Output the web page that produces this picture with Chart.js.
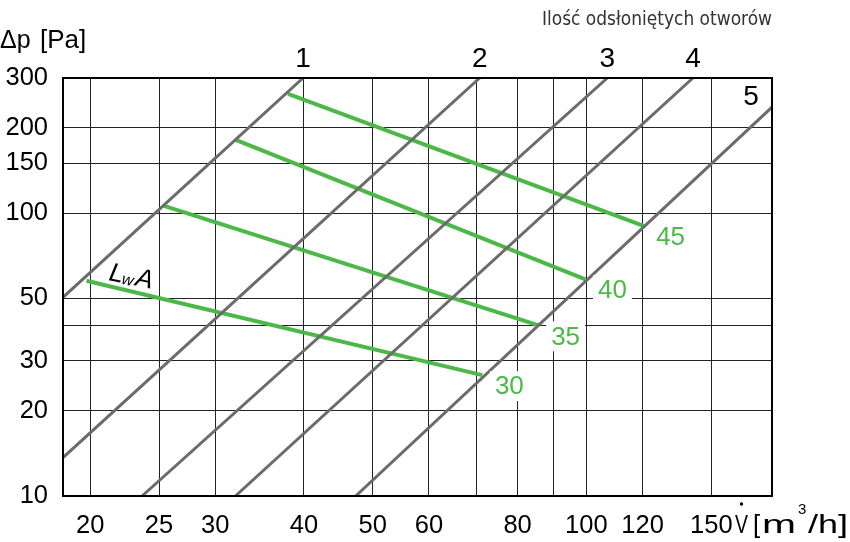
<!DOCTYPE html>
<html><head><meta charset="utf-8">
<script src="https://cdn.jsdelivr.net/npm/chart.js@4.4.1/dist/chart.umd.min.js"></script>
<style>html,body{margin:0;padding:0;background:#fff;} #wrap{width:850px;height:542px;}</style>
</head><body><div id="wrap"><canvas id="c" width="850" height="542"></canvas></div>
<script>
// ---- data ----
const xTickValues = [20,25,30,40,50,60,70,80,90,100,120,150];
const xTickLabels = ['20','25','30','40','50','60','','80','','100','120','150'];
const yTickValues = [10,20,30,40,50,100,150,200,300];
const yTickLabels = ['10','20','30','','50','100','150','200','300'];
const xRange = [18.31, 182.6];
const yRange = [10, 300];

// opening count lines (1..5): flow [m3/h] and pressure [Pa] at both ends
const openingNames = ['1','2','3','4','5'];
const openingFlowStart = [18.31, 18.31, 23.66, 32.03, 47.32];
const openingDpStart   = [50.37, 13.67, 10, 10, 10];
const openingFlowEnd   = [39.89, 70.74, 107.05, 141.3, 182.6];
const openingDpEnd     = [300, 300, 300, 300, 236.8];

// sound power level lines LwA
const lwaNames = ['30','35','40','45'];
const lwaFlowStart = [19.76, 25.41, 32.06, 37.99];
const lwaDpStart   = [57.66, 105.97, 181.4, 263.9];
const lwaFlowEnd   = [71.36, 85.65, 99.68, 120.4];
const lwaDpEnd     = [26.74, 40.09, 58.32, 90.04];

const topTitle = 'Ilość odsłoniętych otworów';

// ---- styles ----
const GREEN = '#4cb848';
const GRAY = '#6b6b6b';
const FONT = "'Liberation Sans', Arial, sans-serif";

const datasets = [];
openingNames.forEach((n, i) => datasets.push({
  label: 'Otwory ' + n,
  data: [{x: openingFlowStart[i], y: openingDpStart[i]}, {x: openingFlowEnd[i], y: openingDpEnd[i]}],
  borderColor: GRAY, borderWidth: 3, showLine: true, pointRadius: 0, order: 0
}));
lwaNames.forEach((n, i) => datasets.push({
  label: 'LwA ' + n,
  data: [{x: lwaFlowStart[i], y: lwaDpStart[i]}, {x: lwaFlowEnd[i], y: lwaDpEnd[i]}],
  borderColor: GREEN, borderWidth: 4, showLine: true, pointRadius: 0, order: 1
}));

function fitText(ctx, txt, x, y, width) {
  const tw = ctx.measureText(txt).width;
  ctx.save(); ctx.translate(x, y); ctx.scale(width / tw, 1);
  ctx.fillText(txt, 0, 0); ctx.restore();
}

const annot = {
  id: 'annot',
  afterDraw(chart) {
    const ctx = chart.ctx, xs = chart.scales.x, ys = chart.scales.y, a = chart.chartArea;
    ctx.save();
    // frame
    ctx.strokeStyle = '#000'; ctx.lineWidth = 2;
    ctx.strokeRect(a.left, a.top, a.right - a.left, a.bottom - a.top);

    // opening labels
    ctx.fillStyle = '#000'; ctx.font = '28px ' + FONT;
    ctx.textAlign = 'center'; ctx.textBaseline = 'middle';
    openingNames.forEach((n, i) => {
      const px = xs.getPixelForValue(openingFlowEnd[i]);
      const py = ys.getPixelForValue(openingDpEnd[i]);
      if (i < 4) ctx.fillText(n, px, py - 19);
      else ctx.fillText(n, px - 21, py - 10);
    });

    // LwA level labels with white box
    ctx.font = '26px ' + FONT;
    lwaNames.forEach((n, i) => {
      const px = xs.getPixelForValue(lwaFlowEnd[i]) + 27;
      const py = ys.getPixelForValue(lwaDpEnd[i]) + 11;
      const w = ctx.measureText(n).width + 10;
      ctx.fillStyle = '#fff';
      ctx.fillRect(px - w / 2, py - 15, w, 30);
      ctx.fillStyle = GREEN;
      ctx.fillText(n, px, py + 1);
    });

    // LwA tag
    ctx.save();
    ctx.translate(108, 280);
    ctx.rotate(0.2);
    ctx.fillStyle = '#000'; ctx.textAlign = 'left'; ctx.textBaseline = 'alphabetic';
    ctx.font = 'italic 26px ' + FONT;
    ctx.fillText('L', 0, 0);
    let w = ctx.measureText('L').width;
    ctx.font = 'italic 16px ' + FONT;
    ctx.fillText('w', w - 1, 1);
    w += ctx.measureText('w').width;
    ctx.font = 'italic 26px ' + FONT;
    ctx.fillText('A', w + 1, 0);
    ctx.restore();

    // y title
    ctx.textAlign = 'left'; ctx.textBaseline = 'alphabetic'; ctx.fillStyle = '#000';
    ctx.font = '25px ' + FONT;
    ctx.fillText('Δp', 0, 48);
    ctx.font = '26px ' + FONT;
    ctx.fillText('[Pa]', 40, 48);

    // x title
    ctx.font = '25.5px ' + FONT;
    fitText(ctx, 'V', 735, 533, 13);
    ctx.beginPath(); ctx.arc(741.5, 504, 1.7, 0, Math.PI * 2); ctx.fill();
    ctx.fillText('[', 753, 533);
    fitText(ctx, 'm', 762, 533, 34);
    ctx.font = '15px ' + FONT;
    ctx.fillText('3', 798, 514);
    ctx.font = '25.5px ' + FONT;
    fitText(ctx, '/h]', 808, 533, 40);

    // top title
    ctx.fillStyle = '#333';
    ctx.font = "19px 'Liberation Sans Narrow', 'DejaVu Sans Condensed', sans-serif";
    fitText(ctx, topTitle, 542, 25, 230);

    ctx.restore();
  }
};

new Chart(document.getElementById('c'), {
  type: 'scatter',
  data: { datasets },
  options: {
    responsive: false, animation: false, events: [],
    layout: { padding: { top: 78, right: 78, left: 0, bottom: 0 } },
    plugins: { legend: { display: false }, tooltip: { enabled: false } },
    scales: {
      x: {
        type: 'logarithmic', min: xRange[0], max: xRange[1],
        afterBuildTicks: s => { s.ticks = xTickValues.map(v => ({ value: v })); },
        afterFit: s => { s.height = 46; },
        border: { display: false },
        grid: { color: '#222', lineWidth: 1, drawTicks: false },
        ticks: { autoSkip: false, maxRotation: 0, minRotation: 0, padding: 15, color: '#000',
                 font: { family: FONT, size: 25.5 }, callback: (v, i) => xTickLabels[i] }
      },
      y: {
        type: 'logarithmic', min: yRange[0], max: yRange[1],
        afterBuildTicks: s => { s.ticks = yTickValues.map(v => ({ value: v })); },
        afterFit: s => { s.width = 63; },
        border: { display: false },
        grid: { color: '#222', lineWidth: 1, drawTicks: false },
        ticks: { autoSkip: false, padding: 15, color: '#000',
                 font: { family: FONT, size: 25.5 }, callback: (v, i) => yTickLabels[i] }
      }
    }
  },
  plugins: [annot]
});
</script>
</body></html>
